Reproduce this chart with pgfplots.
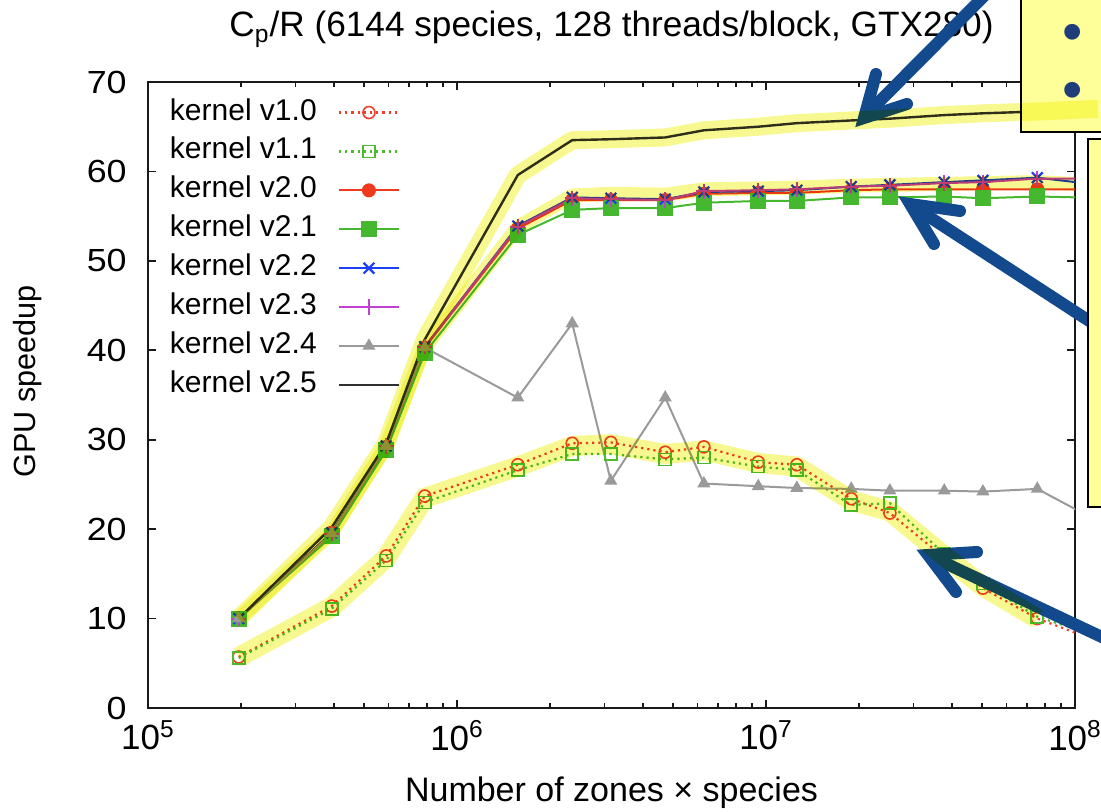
\documentclass[border=0pt]{standalone}
\usepackage{fontspec}
\setmainfont{Liberation Sans}
\usepackage{pgfplots}
\pgfplotsset{compat=1.18}
\usepackage{pgfplotstable}
\usepackage{graphicx}

\definecolor{cA}{HTML}{F0402A}
\definecolor{cB}{HTML}{4DBB2C}
\definecolor{cC}{HTML}{F03A1E}
\definecolor{cD}{HTML}{45B830}
\definecolor{cE}{HTML}{1F3FF5}
\definecolor{cF}{HTML}{C040D0}
\definecolor{cG}{HTML}{9A9A9A}
\definecolor{cH}{HTML}{303030}
\definecolor{arrowblue}{HTML}{134A8E}
\definecolor{boxyellow}{HTML}{FFFF99}
\definecolor{bandcol}{HTML}{F8F890}
\definecolor{bulletblue}{HTML}{1F3D7A}

\pgfplotstableread{
x v10 v11 v20 v21 v22 v23 v24 v25
196608 5.7 5.6 10.0 10.0 10.0 10.0 10.0 10.0
393216 11.4 11.1 19.6 19.2 19.6 19.5 19.5 20.2
589824 17.0 16.5 29.2 28.8 29.3 29.3 29.3 29.6
786432 23.7 23.0 40.3 39.7 40.4 40.4 40.3 41.2
1572864 27.2 26.6 53.6 52.9 53.9 53.8 34.7 59.6
2359296 29.6 28.4 56.8 55.7 57.1 57.0 43.0 63.5
3145728 29.7 28.4 56.8 55.9 57.0 56.9 25.4 63.6
4718592 28.6 27.8 56.8 55.9 56.9 56.8 34.7 63.8
6291456 29.2 28.0 57.5 56.5 57.7 57.8 25.1 64.6
9437184 27.5 27.0 57.6 56.7 57.8 57.9 24.8 65.0
12582912 27.2 26.6 57.6 56.7 57.9 58.0 24.6 65.4
18874368 23.4 22.7 57.9 57.1 58.3 58.3 24.5 65.7
25165824 21.8 22.9 58.0 57.1 58.5 58.4 24.3 65.9
37748736 16.8 17.2 58.0 57.2 58.8 58.7 24.3 66.3
50331648 13.4 13.9 58.0 57.0 59.0 58.8 24.2 66.5
75497472 10.0 10.2 58.0 57.2 59.3 59.2 24.5 66.7
100663296 8.4 8.8 58.0 57.1 58.8 59.2 22.2 66.9
}\data

\pgfplotstableread{
x y
196608 10.0
393216 20.2
589824 29.6
786432 41.2
1572864 59.6
2359296 63.5
3145728 63.6
4718592 63.8
6291456 64.6
9437184 65.0
12582912 65.4
18874368 65.7
25165824 65.9
37748736 66.3
50331648 66.5
75497472 66.7
118600000 67.0
}\bandA

\pgfplotstableread{
x y
196608 10.0
393216 19.6
589824 29.3
786432 40.3
1572864 53.8
2359296 57.3
3145728 57.5
4718592 57.4
6291456 58.0
9437184 58.1
12582912 58.2
18874368 58.4
25165824 58.5
37748736 58.6
50331648 58.7
75497472 58.8
100000000 58.6
}\bandB

\pgfplotstableread{
x y
196608 5.7
393216 11.3
589824 16.8
786432 23.5
1572864 27.0
2359296 29.3
3145728 29.5
4718592 28.4
6291456 28.8
9437184 27.4
12582912 27.0
18874368 23.2
25165824 22.0
37748736 17.0
50331648 13.6
75497472 10.0
}\bandC

\newcommand{\ytl}[1]{\scalebox{1.12}[1]{#1}}

\begin{document}
\begin{tikzpicture}
\path[use as bounding box] (0,0) rectangle (550.5pt,406pt);
\clip (0,0) rectangle (550.5pt,406pt);

\begin{axis}[
  at={(74pt,52pt)}, anchor=south west,
  scale only axis, width=463.5pt, height=313pt,
  xmode=log, xmin=1e5, xmax=1e8, ymin=0, ymax=70,
  xtick={1e5,1e6,1e7,1e8},
  xticklabels={10\textsuperscript{5},10\textsuperscript{6},10\textsuperscript{7},10\textsuperscript{8}},
  minor xtick={2e5,3e5,4e5,5e5,6e5,7e5,8e5,9e5,2e6,3e6,4e6,5e6,6e6,7e6,8e6,9e6,2e7,3e7,4e7,5e7,6e7,7e7,8e7,9e7},
  ytick={0,10,20,30,40,50,60,70},
  yticklabels={\ytl{0},\ytl{10},\ytl{20},\ytl{30},\ytl{40},\ytl{50},\ytl{60},\ytl{70}},
  tick align=inside,
  major tick length=4pt, minor tick length=2.5pt,
  axis line style={line width=1pt, black!90},
  every tick/.style={line width=0.8pt, black!90},
  xticklabel style={font=\fontsize{17.5}{20}\selectfont, inner sep=0pt, yshift=-6pt},
  yticklabel style={font=\fontsize{16}{19}\selectfont, inner sep=0pt, xshift=-10.5pt},
  title={C\textsubscript{p}/R (6144 species, 128 threads/block, GTX280)},
  every axis title/.style={at={(axis description cs:0.5,1.072)}, anchor=base, font=\fontsize{17.6}{20}\selectfont},
  xlabel={Number of zones × species},
  every axis x label/.style={at={(axis description cs:0.5,-0.150)}, anchor=base, font=\fontsize{17}{20}\selectfont},
  ylabel={GPU speedup},
  every axis y label/.style={at={(axis description cs:-0.1219,0.522)}, anchor=base, rotate=90, font=\fontsize{15.3}{18}\selectfont},
  legend plot pos=right,
  legend cell align=left,
  legend image code/.code={\draw[mark repeat=2,mark phase=2] plot coordinates {(0pt,0pt) (15pt,0pt) (30pt,0pt)};},
  legend style={at={(axis description cs:0.0237,0.9744)}, anchor=north west, draw=none, fill=none,
    font=\fontsize{15}{18}\selectfont, inner sep=0pt, outer sep=0pt, row sep=4.95pt, column sep=10.5pt,
    nodes={inner sep=0pt, text height=11pt, text depth=3.5pt}},
]
\addplot[cA, dotted, line width=1.1pt, mark=o, mark size=3pt, mark options={solid, line width=0.8pt}] table[x=x,y=v10]{\data};
\addlegendentry{kernel v1.0}
\addplot[cB, dotted, line width=1.1pt, mark=square, mark size=3pt, mark options={solid, line width=0.8pt}] table[x=x,y=v11]{\data};
\addlegendentry{kernel v1.1}
\addplot[cC, line width=1pt, mark=*, mark size=3pt, mark options={solid}] table[x=x,y=v20]{\data};
\addlegendentry{kernel v2.0}
\addplot[cD, line width=1pt, mark=square*, mark size=3.5pt, mark options={solid}] table[x=x,y=v21]{\data};
\addlegendentry{kernel v2.1}
\addplot[cE, line width=1pt, mark=x, mark size=3.8pt, mark options={solid, line width=1.1pt}] table[x=x,y=v22]{\data};
\addlegendentry{kernel v2.2}
\addplot[cF, line width=1pt, mark=+, mark size=3.8pt, mark options={solid, line width=1pt}] table[x=x,y=v23]{\data};
\addlegendentry{kernel v2.3}
\addplot[cG, line width=1pt, mark=triangle*, mark size=2.8pt, mark options={solid}] table[x=x,y=v24]{\data};
\addlegendentry{kernel v2.4}
\addplot[cH, line width=1.2pt, no marks] table[x=x,y=v25]{\data};
\addlegendentry{kernel v2.5}
\end{axis}

\begin{scope}[x=0.5pt, y=-0.5pt, shift={(0,406pt)}]
  % arrows
  \draw[arrowblue, line width=6pt, line cap=round] (1010,-30) -- (867,114);
  \draw[arrowblue, line width=6pt, line cap=round, line join=miter] (876,74) -- (864,118) -- (907,104);
  \draw[arrowblue, line width=6pt, line cap=round] (1100,328) -- (914,207);
  \draw[arrowblue, line width=6pt, line cap=round, line join=miter] (960,211) -- (910,204) -- (934,244);
  \draw[arrowblue, line width=6pt, line cap=round] (1140,655) -- (932,557);
  \draw[arrowblue, line width=6pt, line cap=round, line join=miter] (977,552) -- (928,555) -- (956,592);
  % boxes
  \draw[line width=1.2pt, fill=boxyellow] (1021,-10) rectangle (1130,132);
  \draw[line width=1.2pt, fill=boxyellow] (1088,139) rectangle (1130,507);
  \node[text=bulletblue, font=\fontsize{29}{29}\selectfont, anchor=base, inner sep=0pt] at (1073,52) {•};
  \node[text=bulletblue, font=\fontsize{29}{29}\selectfont, anchor=base, inner sep=0pt] at (1073,110) {•};
\end{scope}

\begin{scope}[blend mode=multiply]
\begin{axis}[
  at={(74pt,52pt)}, anchor=south west,
  scale only axis, width=463.5pt, height=313pt,
  xmode=log, xmin=1e5, xmax=1e8, ymin=0, ymax=70,
  hide axis, clip=false,
]
\addplot[bandcol, line width=9pt, line join=round, no marks] table[x=x,y=y]{\bandA};
\addplot[bandcol, line width=7pt, line join=round, no marks] table[x=x,y=y]{\bandB};
\addplot[bandcol, line width=10pt, line join=round, no marks] table[x=x,y=y]{\bandC};
\end{axis}
\end{scope}
\end{tikzpicture}
\end{document}
